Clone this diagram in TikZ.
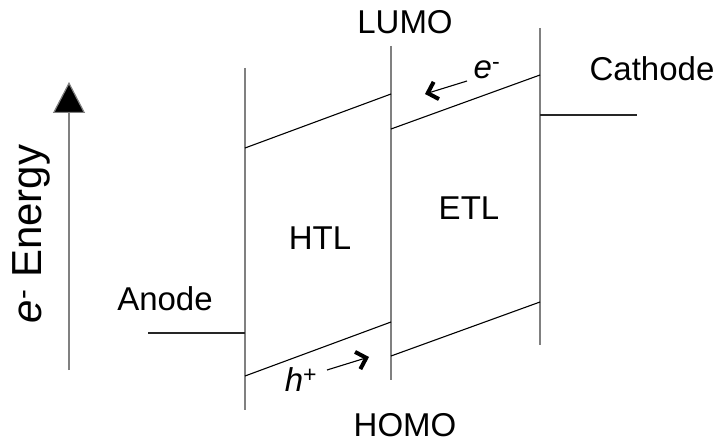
\documentclass[tikz,border=0pt]{standalone}
\usepackage{fontspec}
\setmainfont{Liberation Sans}
\usetikzlibrary{arrows.meta}
\begin{document}
\begin{tikzpicture}[x=1pt,y=-1pt,
  vline/.style={draw=black!50,line width=1.2pt},
  level/.style={draw=black,line width=1.1pt},
  elec/.style={draw=black!85,line width=1.2pt},
  lbl/.style={inner sep=0pt,font=\fontsize{33}{38}\selectfont},
  carrier/.style={draw=black,line width=1.1pt,-{Straight Barb[length=9pt,width=18pt,line width=4pt 0]}}]
\useasboundingbox (0,0) rectangle (720,446);
% layer boundaries
\coordinate (a1) at (245,68);  \coordinate (a2) at (245,410);
\coordinate (b1) at (391,46);  \coordinate (b2) at (391,380);
\coordinate (c1) at (540,28);  \coordinate (c2) at (540,345);
\draw[vline] (a1) -- (a2);
\draw[vline] (b1) -- (b2);
\draw[vline] (c1) -- (c2);
% LUMO / HOMO levels
\coordinate (hl1) at (245,148); \coordinate (hl2) at (391,94);
\coordinate (el1) at (391,129); \coordinate (el2) at (540,75);
\coordinate (hh1) at (245,376); \coordinate (hh2) at (391,322);
\coordinate (eh1) at (391,356); \coordinate (eh2) at (540,302);
\draw[level] (hl1) -- (hl2);
\draw[level] (el1) -- (el2);
\draw[level] (hh1) -- (hh2);
\draw[level] (eh1) -- (eh2);
% electrodes
\coordinate (an1) at (148,333); \coordinate (an2) at (245,333);
\coordinate (ca1) at (540,115); \coordinate (ca2) at (637,115);
\draw[elec] (an1) -- (an2);
\draw[elec] (ca1) -- (ca2);
% energy axis
\coordinate (ax1) at (69,370); \coordinate (ax2) at (69,82);
\draw[draw=black!50,line width=1.2pt,-{Triangle[length=31pt,width=32pt,fill=black]}] (ax1) -- (ax2);
% carrier arrows
\coordinate (ea1) at (467,81); \coordinate (ea2) at (425,94);
\coordinate (ha1) at (327,370); \coordinate (ha2) at (369,357);
\draw[carrier] (ea1) -- (ea2);
\draw[carrier] (ha1) -- (ha2);
% labels
\node[lbl] (lumo) at (405,22) {LUMO};
\node[lbl] (homo) at (405,425) {HOMO};
\node[lbl] (cath) at (652,69) {Cathode};
\node[lbl] (anod) at (165,299) {Anode};
\node[lbl] (htl) at (320,238) {HTL};
\node[lbl] (etl) at (469,208) {ETL};
\node[lbl] (elab) at (487,70) {\textit{e}\textsuperscript{-}};
\node[lbl] (hlab) at (301,380) {\textit{h}\textsuperscript{+}};
\node[inner sep=0pt,font=\fontsize{42}{46}\selectfont,rotate=90] (axlab) at (31,234) {\textit{e}\textsuperscript{-} Energy};
\end{tikzpicture}
\end{document}
